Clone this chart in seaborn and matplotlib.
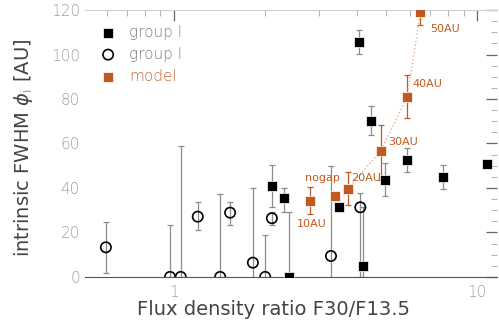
import matplotlib
matplotlib.use('Agg')
import matplotlib.pyplot as plt
import matplotlib.ticker as mticker
import numpy as np
import pandas as pd
import seaborn as sns

# group I (filled squares): flux ratio, FWHM, lower / upper error
g1_ratio = [2.10, 2.30, 2.40, 3.49, 4.18, 4.46, 4.08, 4.97, 5.86, 7.70, 10.76]
g1_fwhm = [40.7, 35.4, 0.0, 31.6, 5.1, 70.2, 105.8, 43.6, 52.6, 45.1, 50.6]
g1_lo = [9.1, 6.1, 0.0, 0.0, 5.1, 6.4, 5.6, 7.2, 5.3, 5.7, 0.0]
g1_hi = [9.6, 4.5, 29.3, 0.0, 26.4, 6.8, 5.2, 7.5, 5.5, 5.2, 0.0]

# group II (open circles)
g2_ratio = [0.596, 0.970, 1.052, 1.197, 1.419, 1.530, 1.819, 1.997, 2.101, 3.29, 4.11]
g2_fwhm = [13.3, 0.0, 0.0, 27.1, 0.0, 28.9, 6.4, 0.0, 26.4, 9.4, 31.3]
g2_lo = [11.4, 0.0, 0.0, 6.0, 0.0, 5.5, 6.4, 0.0, 3.0, 9.4, 31.3]
g2_hi = [11.6, 23.2, 58.9, 6.5, 37.3, 4.9, 33.6, 18.9, 2.9, 40.5, 6.6]

# model
mod_ratio = [2.80, 3.40, 3.74, 4.81, 5.86, 6.49]
mod_fwhm = [34.3, 36.4, 39.6, 56.8, 81.0, 119.0]
mod_lo = [6.0, 0.0, 7.2, 13.2, 9.7, 5.7]
mod_hi = [6.0, 0.0, 7.7, 11.5, 9.8, 5.0]
mod_label = ['10AU', 'nogap', '20AU', '30AU', '40AU', '50AU']

orange = '#c15a1e'
grey = '#8c8c8c'

sns.set_style('white')
plt.rcParams['font.family'] = ['DejaVu Sans']
plt.rcParams['font.weight'] = 'light'
fig = plt.figure(figsize=(4.99, 3.25), dpi=100)
ax = fig.add_axes([0.170, 0.148, 0.826, 0.821])
ax.set_xscale('log')

ekw = dict(fmt='none', ecolor=grey, elinewidth=0.9, capsize=2.5, capthick=0.9, zorder=1)
ax.errorbar(g1_ratio, g1_fwhm, yerr=[g1_lo, g1_hi], **ekw)
ax.errorbar(g2_ratio, g2_fwhm, yerr=[g2_lo, g2_hi], **ekw)
ax.errorbar(mod_ratio, mod_fwhm, yerr=[mod_lo, mod_hi], fmt='none', ecolor=orange,
            elinewidth=0.9, capsize=2.5, capthick=0.9, zorder=1)

# dotted model track
ax.plot(mod_ratio[2:], mod_fwhm[2:], ls=':', color='#e6ae8e', lw=1.0, zorder=1)

df1 = pd.DataFrame({'ratio': g1_ratio, 'fwhm': g1_fwhm})
df2 = pd.DataFrame({'ratio': g2_ratio, 'fwhm': g2_fwhm})
dfm = pd.DataFrame({'ratio': mod_ratio, 'fwhm': mod_fwhm})
sns.scatterplot(data=df1, x='ratio', y='fwhm', marker='s', s=50, color='black',
                edgecolor='white', linewidth=0.5, ax=ax, zorder=3, label='group I')
sns.scatterplot(data=df2, x='ratio', y='fwhm', marker='o', s=55, facecolor='none',
                edgecolor='black', linewidth=1.2, ax=ax, zorder=3, label='group I')
sns.scatterplot(data=dfm, x='ratio', y='fwhm', marker='s', s=50, color=orange,
                edgecolor='white', linewidth=0.5, ax=ax, zorder=3, label='model')

# model labels
offs = {'10AU': (-9.5, -17), 'nogap': (-22, 13), '20AU': (2, 8), '30AU': (5, 6),
        '40AU': (4, 9), '50AU': (7, -12)}
for xr, yv, lab in zip(mod_ratio, mod_fwhm, mod_label):
    dx, dy = offs[lab]
    ax.annotate(lab, (xr, yv), xytext=(dx, dy), textcoords='offset points',
                color=orange, fontsize=8, fontweight='normal', ha='left', va='center')

ax.set_xlim(0.508, 11.6)
ax.set_ylim(0, 120)
ax.xaxis.set_major_locator(mticker.FixedLocator([1, 10]))
ax.xaxis.set_major_formatter(mticker.FixedFormatter(['1', '10']))
ax.xaxis.set_minor_locator(mticker.LogLocator(base=10, subs=np.arange(2, 10)))
ax.xaxis.set_minor_formatter(mticker.NullFormatter())
ax.yaxis.set_major_locator(mticker.MultipleLocator(20))
ax.yaxis.set_minor_locator(mticker.MultipleLocator(5))

ax.tick_params(which='both', direction='in', top=True, right=True,
               labelcolor='#a0a0a0', labelsize=11)
ax.tick_params(which='major', length=8, width=0.9, color='#666666')
ax.tick_params(which='minor', length=4, width=0.7, color='#b0b0b0')
ax.tick_params(axis='x', pad=6)

for s in ['left', 'right']:
    ax.spines[s].set_visible(False)
ax.spines['bottom'].set_color('#555555')
ax.spines['top'].set_color('#d0d0d0')

ax.set_xlabel('Flux density ratio F30/F13.5', fontsize=14, color='#444444')
ax.set_ylabel(r'intrinsic FWHM $\phi_{\rm i}$ [AU]', fontsize=14, color='#444444')
ax.xaxis.set_label_coords(0.4575, -0.085)
ax.yaxis.set_label_coords(-0.121, 0.485)

leg = ax.legend(loc='upper left', bbox_to_anchor=(0.012, 0.985), frameon=False,
                fontsize=11, handletextpad=0.9, borderaxespad=0.3,
                labelspacing=0.45, handlelength=1.0)
for t, c in zip(leg.get_texts(), ['#808080', '#808080', '#cc6a35']):
    t.set_color(c)

fig.savefig('out.png', dpi=100)
